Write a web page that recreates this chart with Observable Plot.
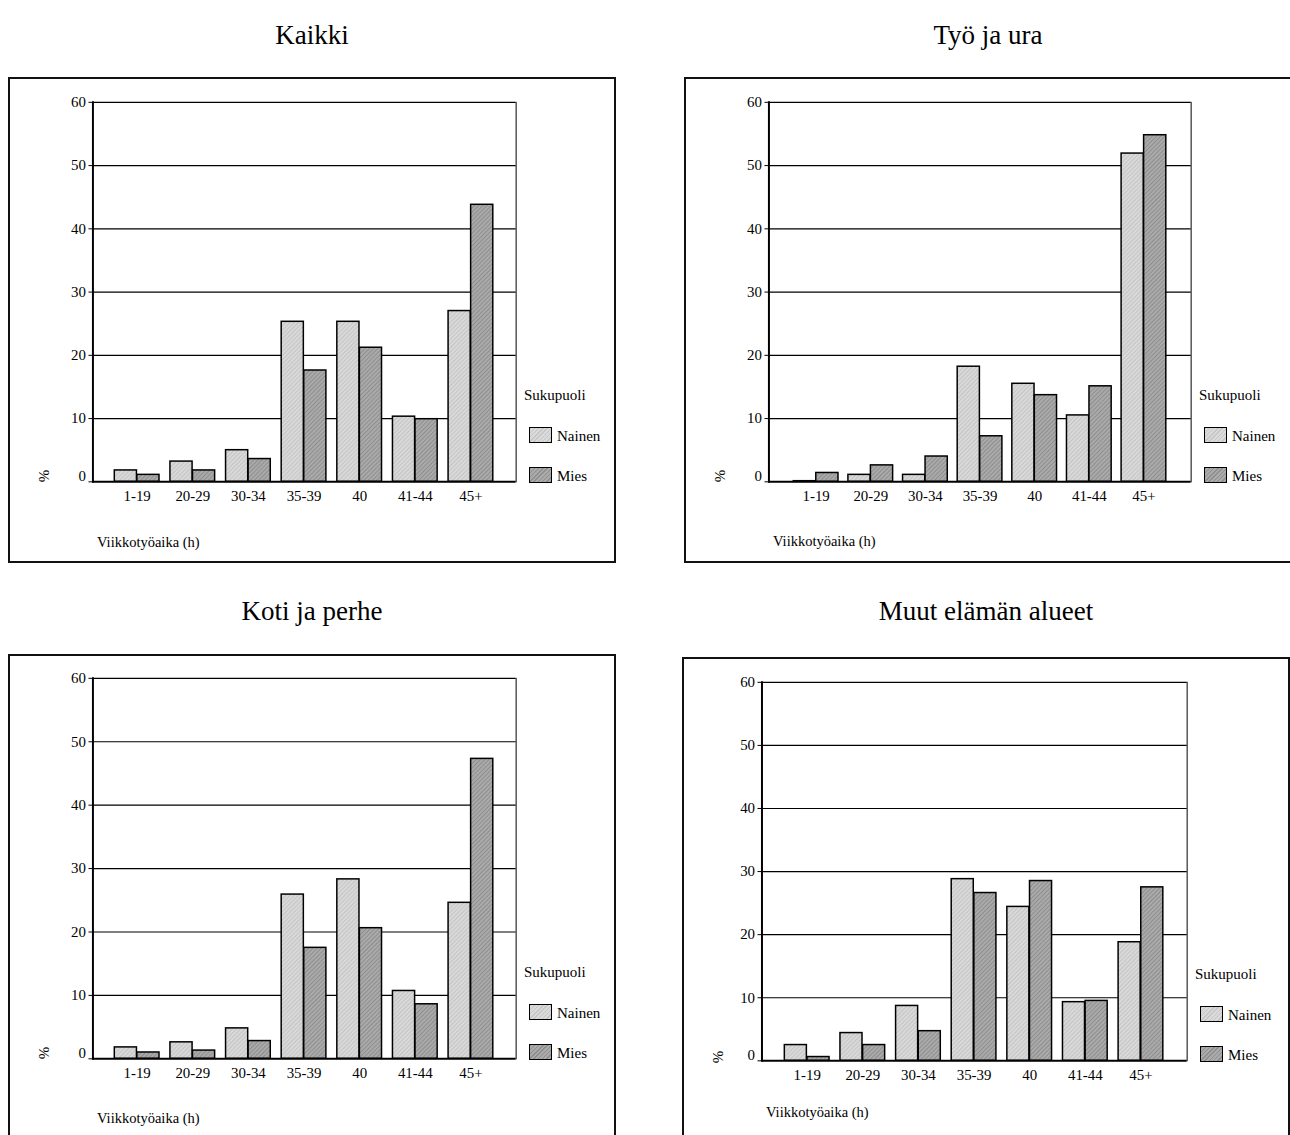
<!DOCTYPE html>
<html>
<head>
<meta charset="utf-8">
<script src="https://cdn.jsdelivr.net/npm/d3@7"></script>
<script src="https://cdn.jsdelivr.net/npm/@observablehq/plot@0.6"></script>
<style>
  html, body { margin: 0; padding: 0; background: #fff; }
  body { width: 1290px; height: 1135px; overflow: hidden; position: relative; font-family: "Liberation Serif", "Times New Roman", serif; color: #000; }
  .title { position: absolute; font-size: 27px; transform: translate(-50%, -50%); white-space: nowrap; }
  .frame { position: absolute; box-sizing: border-box; border: 2px solid #111; width: 608px; height: 486px; }
  .frame svg { position: absolute; left: -2px; top: -2px; }
  .lbl { position: absolute; white-space: nowrap; font-size: 15px; transform: translateY(-50%); }
  .xlab { font-size: 14.5px; }
  .pct { position: absolute; font-size: 15px; transform: translate(-50%, -50%) rotate(-90deg); }
  .sw { position: absolute; width: 21px; height: 14px; border: 1.5px solid #000; box-sizing: content-box; }
  .swN { background: repeating-linear-gradient(135deg, #c6c6c6 0 1px, #dadada 1px 3px); }
  .swM { background: repeating-linear-gradient(135deg, #8e8e8e 0 1px, #aaaaaa 1px 3px); }
</style>
</head>
<body>
<svg width="0" height="0" style="position:absolute">
  <defs>
    <pattern id="hatchN" width="3" height="3" patternUnits="userSpaceOnUse" patternTransform="rotate(45)">
      <rect width="3" height="3" fill="#d9d9d9"></rect>
      <line x1="0.5" y1="0" x2="0.5" y2="3" stroke="#c4c4c4" stroke-width="1"></line>
    </pattern>
    <pattern id="hatchM" width="3" height="3" patternUnits="userSpaceOnUse" patternTransform="rotate(45)">
      <rect width="3" height="3" fill="#aaaaaa"></rect>
      <line x1="0.5" y1="0" x2="0.5" y2="3" stroke="#8e8e8e" stroke-width="1"></line>
    </pattern>
  </defs>
</svg>
<script>
// ---- data ----
const categories = ["1-19", "20-29", "30-34", "35-39", "40", "41-44", "45+"];
const sexes = ["Nainen", "Mies"];
const yTicks = [0, 10, 20, 30, 40, 50, 60];
const panelTitles = ["Kaikki", "Työ ja ura", "Koti ja perhe", "Muut elämän alueet"];

const kaikkiNainen = [1.8, 3.2, 5.0, 25.3, 25.3, 10.3, 27.0];
const kaikkiMies   = [1.1, 1.8, 3.6, 17.6, 21.2, 9.9, 43.8];
const tyoNainen    = [0.1, 1.1, 1.1, 18.2, 15.5, 10.5, 51.9];
const tyoMies      = [1.4, 2.6, 4.0, 7.2, 13.7, 15.1, 54.8];
const kotiNainen   = [1.8, 2.6, 4.8, 25.9, 28.3, 10.7, 24.6];
const kotiMies     = [1.0, 1.3, 2.8, 17.5, 20.6, 8.6, 47.3];
const muutNainen   = [2.5, 4.4, 8.7, 28.8, 24.4, 9.3, 18.8];
const muutMies     = [0.6, 2.5, 4.7, 26.6, 28.5, 9.5, 27.5];

const axisTitle = "Viikkotyöaika (h)";
const yLabel = "%";
const legendTitle = "Sukupuoli";

// ---- layout (frame position and plot margins) ----
const layouts = [
  {left: 8,   top: 77,  titleY: 35,  ml: 85, mt: 25, mr: 97,  mb: 79, xl: 58, pct: 8},
  {left: 684, top: 77,  titleY: 35,  ml: 85, mt: 25, mr: 98,  mb: 79, xl: 57, pct: 8},
  {left: 8,   top: 654, titleY: 611, ml: 85, mt: 24, mr: 97,  mb: 79, xl: 57, pct: 8},
  {left: 682, top: 657, titleY: 611, ml: 80, mt: 25, mr: 100, mb: 80, xl: 49, pct: 6}
];
const series = [
  [kaikkiNainen, kaikkiMies],
  [tyoNainen, tyoMies],
  [kotiNainen, kotiMies],
  [muutNainen, muutMies]
];
const W = 608, H = 486;
const padIn = 0.19, padOut = 0.395;
const font = "'Liberation Serif', 'Times New Roman', serif";

function el(cls, text, styles, parent) {
  const d = document.createElement("div");
  d.className = cls;
  if (text != null) d.textContent = text;
  Object.assign(d.style, styles);
  (parent || document.body).appendChild(d);
  return d;
}

panelTitles.forEach((title, i) => {
  const L = layouts[i];
  const [nainen, mies] = series[i];
  const rows = [];
  categories.forEach((c, j) => {
    rows.push({cat: c, sex: sexes[0], value: nainen[j]});
    rows.push({cat: c, sex: sexes[1], value: mies[j]});
  });
  const plotW = W - L.ml - L.mr;
  const bw = d3.scaleBand().domain(categories).range([0, plotW]).paddingInner(padIn).paddingOuter(padOut).bandwidth();

  el("title", title, {left: (L.left + W / 2) + "px", top: L.titleY + "px"});
  const frame = el("frame", null, {left: L.left + "px", top: L.top + "px"});

  const chart = Plot.plot({
    width: W,
    height: H,
    marginLeft: L.ml,
    marginTop: L.mt,
    marginRight: L.mr,
    marginBottom: L.mb,
    style: {fontFamily: font, fontSize: "15px", color: "#000", background: "transparent"},
    x: {type: "band", domain: categories, paddingInner: padIn, paddingOuter: padOut, align: 0.5, label: null},
    y: {domain: [0, 60], label: null},
    marks: [
      Plot.ruleY(yTicks.filter(t => t > 0), {stroke: "#000", strokeWidth: 1.2}),
      Plot.frame({anchor: "right", stroke: "#000", strokeWidth: 1}),
      Plot.barY(rows.filter(d => d.sex === sexes[0]), {x: "cat", y: "value", fill: "url(#hatchN)", stroke: "#000", strokeWidth: 1.5, insetRight: bw / 2}),
      Plot.barY(rows.filter(d => d.sex === sexes[1]), {x: "cat", y: "value", fill: "url(#hatchM)", stroke: "#000", strokeWidth: 1.5, insetLeft: bw / 2}),
      Plot.ruleY([0], {stroke: "#000", strokeWidth: 2}),
      Plot.frame({anchor: "left", stroke: "#000", strokeWidth: 2}),
      Plot.axisY({ticks: yTicks, tickSize: 4, tickPadding: 3, label: null, tickFormat: d => (d === 0 ? "" : String(d)), fontSize: 15}),
      Plot.axisY({ticks: [0], tickSize: 0, tickPadding: 7, label: null, tickFormat: d => String(d), fontSize: 15, dy: -6}),
      Plot.axisX({tickSize: 0, tickPadding: 9, label: null, fontSize: 15})
    ]
  });
  frame.appendChild(chart);

  // ancillary labels (positioned inside the 2px border)
  const b = 2;
  const zeroY = H - L.mb;
  const plotRight = W - L.mr;
  el("pct", yLabel, {left: (36 - b) + "px", top: (zeroY - L.pct - b) + "px"}, frame);
  el("lbl xlab", axisTitle, {left: (L.ml + 4 - b) + "px", top: (zeroY + L.xl - b) + "px"}, frame);
  el("lbl", legendTitle, {left: (plotRight + 5 - b) + "px", top: (zeroY - 89 - b) + "px"}, frame);
  el("sw swN", null, {left: (plotRight + 10 - b) + "px", top: (zeroY - 57 - b) + "px"}, frame);
  el("sw swM", null, {left: (plotRight + 10 - b) + "px", top: (zeroY - 17 - b) + "px"}, frame);
  el("lbl", sexes[0], {left: (plotRight + 38 - b) + "px", top: (zeroY - 48 - b) + "px"}, frame);
  el("lbl", sexes[1], {left: (plotRight + 38 - b) + "px", top: (zeroY - 8 - b) + "px"}, frame);
});
</script>
</body>
</html>
